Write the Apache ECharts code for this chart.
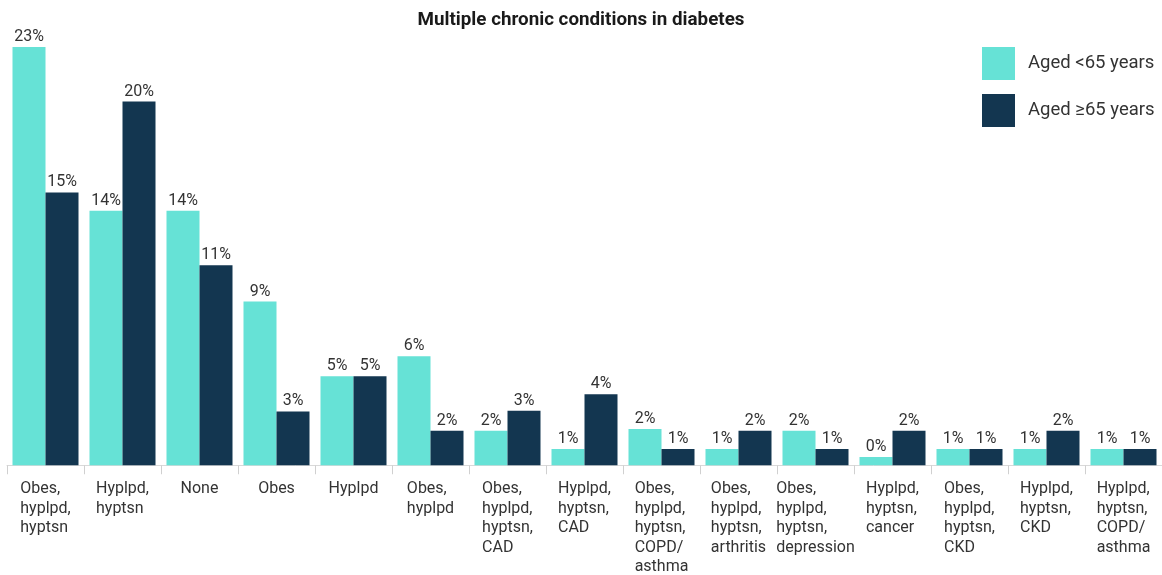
<!DOCTYPE html>
<html>
<head>
<meta charset="utf-8">
<script src="https://cdn.jsdelivr.net/npm/echarts@6/dist/echarts.min.js"></script>
<style>
  html, body { margin: 0; padding: 0; background: #fff; }
  #chart { width: 1162px; height: 575px; }
</style>
</head>
<body>
<div id="chart"></div>
<script>
var categories = [
    ['Obes,', 'hyplpd,', 'hyptsn'],
    ['Hyplpd,', 'hyptsn'],
    ['None'],
    ['Obes'],
    ['Hyplpd'],
    ['Obes,', 'hyplpd'],
    ['Obes,', 'hyplpd,', 'hyptsn,', 'CAD'],
    ['Hyplpd,', 'hyptsn,', 'CAD'],
    ['Obes,', 'hyplpd,', 'hyptsn,', 'COPD/', 'asthma'],
    ['Obes,', 'hyplpd,', 'hyptsn,', 'arthritis'],
    ['Obes,', 'hyplpd,', 'hyptsn,', 'depression'],
    ['Hyplpd,', 'hyptsn,', 'cancer'],
    ['Obes,', 'hyplpd,', 'hyptsn,', 'CKD'],
    ['Hyplpd,', 'hyptsn,', 'CKD'],
    ['Hyplpd,', 'hyptsn,', 'COPD/', 'asthma']
];
var seriesNames = ['Aged <65 years', 'Aged \u226565 years'];
// values (labels show rounded %)
var under65 = [23, 14, 14, 9, 4.9, 6, 1.9, 0.9, 2, 0.9, 1.9, 0.45, 0.9, 0.9, 0.9];
var over65 = [15, 20, 11, 2.96, 4.9, 1.9, 3, 3.9, 0.9, 1.9, 0.9, 1.9, 0.9, 1.9, 0.9];
var colors = ['#66e2d6', '#133650'];

var myChart = echarts.init(document.getElementById('chart'));

var labelOpt = {
    show: true,
    position: 'top',
    distance: 2,
    color: '#333',
    fontSize: 16,
    fontFamily: 'Roboto',
    formatter: function (p) {
        return Math.round(p.value) + '%';
    }
};

var option = {
    animation: false,
    backgroundColor: '#fff',
    title: {
        text: 'Multiple chronic conditions in diabetes',
        left: 'center',
        top: 6,
        textStyle: { fontFamily: 'Roboto', fontSize: 18.8, fontWeight: 'bold', color: '#1a1a1a' }
    },
    legend: {
        orient: 'vertical',
        left: 977,
        top: 42,
        itemWidth: 33,
        itemHeight: 33,
        itemGap: 14,
        icon: 'rect',
        textStyle: { fontFamily: 'Roboto', fontSize: 18.5, color: '#333', padding: [0, 0, 0, 8] },
        data: seriesNames
    },
    grid: { left: 7, width: 1163, top: 47, bottom: 107, containLabel: false },
    xAxis: {
        type: 'category',
        data: categories.map(function (c) { return c.join('\n'); }),
        axisLine: { show: true, lineStyle: { color: '#d9d9d9', width: 1 } },
        axisTick: { show: true, length: 9, lineStyle: { color: '#d0d0d0' } },
        axisLabel: {
            margin: 14,
            interval: 0,
            formatter: function (v) {
                return v.split('\n').map(function (s) { return '{a|' + s + '}'; }).join('\n');
            },
            rich: {
                a: { align: 'left', fontFamily: 'Roboto', fontSize: 16, lineHeight: 19.5, color: '#333' }
            }
        }
    },
    yAxis: {
        type: 'value',
        min: 0,
        max: 23,
        show: false,
        splitLine: { show: false }
    },
    series: [
        {
            name: seriesNames[0],
            type: 'bar',
            data: under65,
            barWidth: 33,
            barGap: '0%',
            itemStyle: { color: colors[0] },
            label: labelOpt
        },
        {
            name: seriesNames[1],
            type: 'bar',
            data: over65,
            barWidth: 33,
            barGap: '0%',
            itemStyle: { color: colors[1] },
            label: labelOpt
        }
    ]
};

myChart.setOption(option);
</script>
</body>
</html>
